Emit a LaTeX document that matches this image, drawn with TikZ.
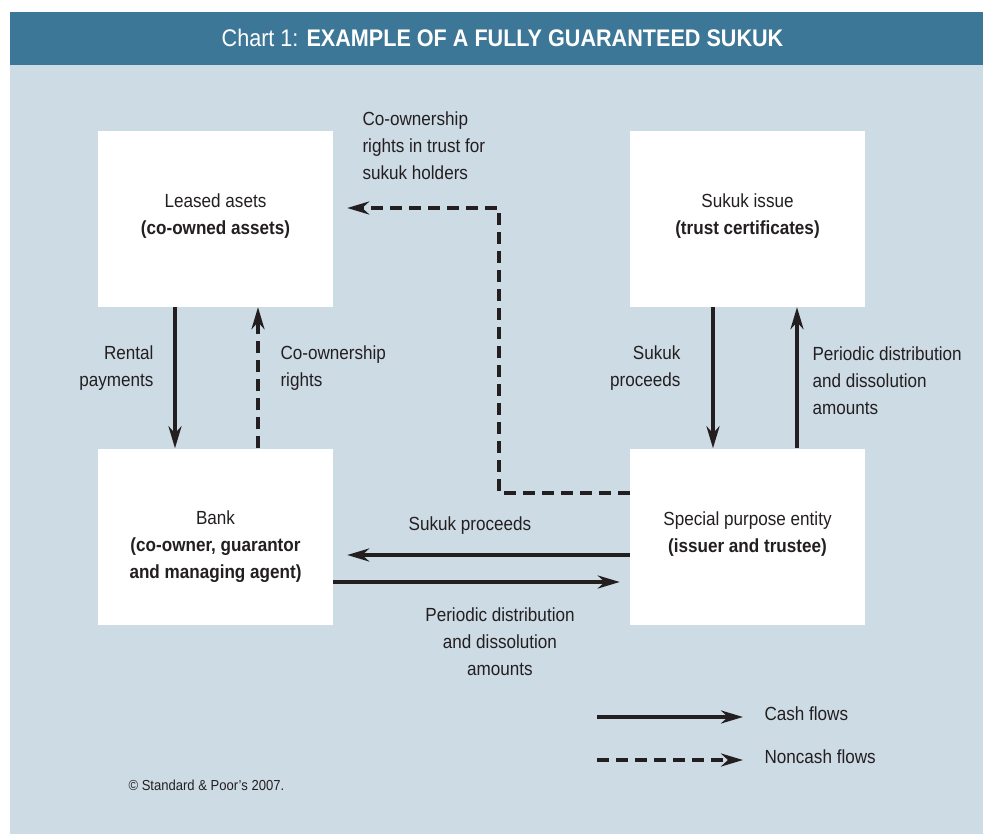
\documentclass[tikz,border=0pt]{standalone}
\usepackage{fontspec}
\setmainfont{Liberation Sans}[FakeStretch=0.9]
\usetikzlibrary{calc}
\usetikzlibrary{arrows.meta}
\usetikzlibrary{positioning}

\definecolor{chartblue}{HTML}{3D7797}
\definecolor{chartback}{HTML}{CDDBE5}
\definecolor{charttext}{HTML}{231F20}

\tikzset{
  every node/.style={font=\fontsize{19}{27}\selectfont, text=charttext},
  party/.style={fill=white, minimum width=235pt, minimum height=176pt, inner sep=0pt},
  cash/.style={draw=charttext, line width=3.5pt, -{Stealth[length=22pt,width=13pt,inset=7pt]}},
  noncash/.style={cash, dash pattern=on 12pt off 7pt}
}

\begin{document}
\begin{tikzpicture}[x=1pt,y=-1pt]
\useasboundingbox (0,0) rectangle (983,834);
\fill[chartback] (10,65) rectangle (983,834);
\fill[chartblue] (10,12) rectangle (983,65);

\node[text=white, font=\fontsize{24}{30}\selectfont] (title) at (502.5,38) {Chart 1: \textbf{EXAMPLE OF A FULLY GUARANTEED SUKUK}};

% the four parties
\node[party, label={[yshift=3pt,align=center]center:Leased asets\\\textbf{(co-owned assets)}}] (leased) at (215.5,219) {};
\node[party, label={[yshift=3pt,align=center]center:Sukuk issue\\\textbf{(trust certificates)}}] (sukuk) at (747.5,219) {};
\node[party, label={[yshift=-10pt,align=center]center:Bank\\\textbf{(co-owner, guarantor}\\\textbf{and managing agent)}}] (bank) at (215.5,536.5) {};
\node[party, label={[yshift=2pt,align=center]center:Special purpose entity\\\textbf{(issuer and trustee)}}] (spe) at (747.5,536.5) {};

% left column
\draw[cash] ([xshift=-40.5pt]leased.south) -- ([xshift=-40.5pt]bank.north);
\draw[noncash] ([xshift=42.5pt]bank.north) -- ([xshift=42.5pt]leased.south);
\node[anchor=east, align=right] (rental) at (157,368) {Rental\\payments};
\node[anchor=west, align=left] (corights) at (277,368) {Co-ownership\\rights};

% right column
\draw[cash] ([xshift=-34.5pt]sukuk.south) -- ([xshift=-34.5pt]spe.north);
\draw[cash] ([xshift=49.5pt]spe.north) -- ([xshift=49.5pt]sukuk.south);
\node[anchor=east, align=right] (proceedsup) at (684,368) {Sukuk\\proceeds};
\node[anchor=west, align=left] (periodicup) at (809,381) {Periodic distribution\\and dissolution\\amounts};

% trust rights
\coordinate (bend) at (499,208);
\draw[noncash, shorten >=14pt] ([yshift=43.5pt]spe.west) -| (bend) -- (bend -| leased.east);
\node[anchor=west, align=left] (trust) at (359,146) {Co-ownership\\rights in trust for\\sukuk holders};

% bottom row
\draw[cash, shorten >=14pt] ([yshift=-18.5pt]spe.west) -- ([yshift=-18.5pt]bank.east);
\draw[cash, shorten >=10pt] ([yshift=-45.5pt]bank.east) -- ([yshift=-45.5pt]spe.west);
\node (proceedsleft) at (470,526) {Sukuk proceeds};
\node[align=center] (periodicright) at (500,642) {Periodic distribution\\and dissolution\\amounts};

% legend
\coordinate (cashfrom) at (597,717);
\coordinate (cashto) at (743,717);
\draw[cash] (cashfrom) -- (cashto);
\node[anchor=west] (cashlbl) at (761,714) {Cash flows};
\coordinate (noncashfrom) at (597,760);
\coordinate (noncashto) at (743,760);
\draw[noncash] (noncashfrom) -- (noncashto);
\node[anchor=west] (noncashlbl) at (761,757) {Noncash flows};

\node[anchor=west, font=\fontsize{14.5}{17}\selectfont] (copy) at (125,785) {© Standard \& Poor’s 2007.};
\end{tikzpicture}
\end{document}
